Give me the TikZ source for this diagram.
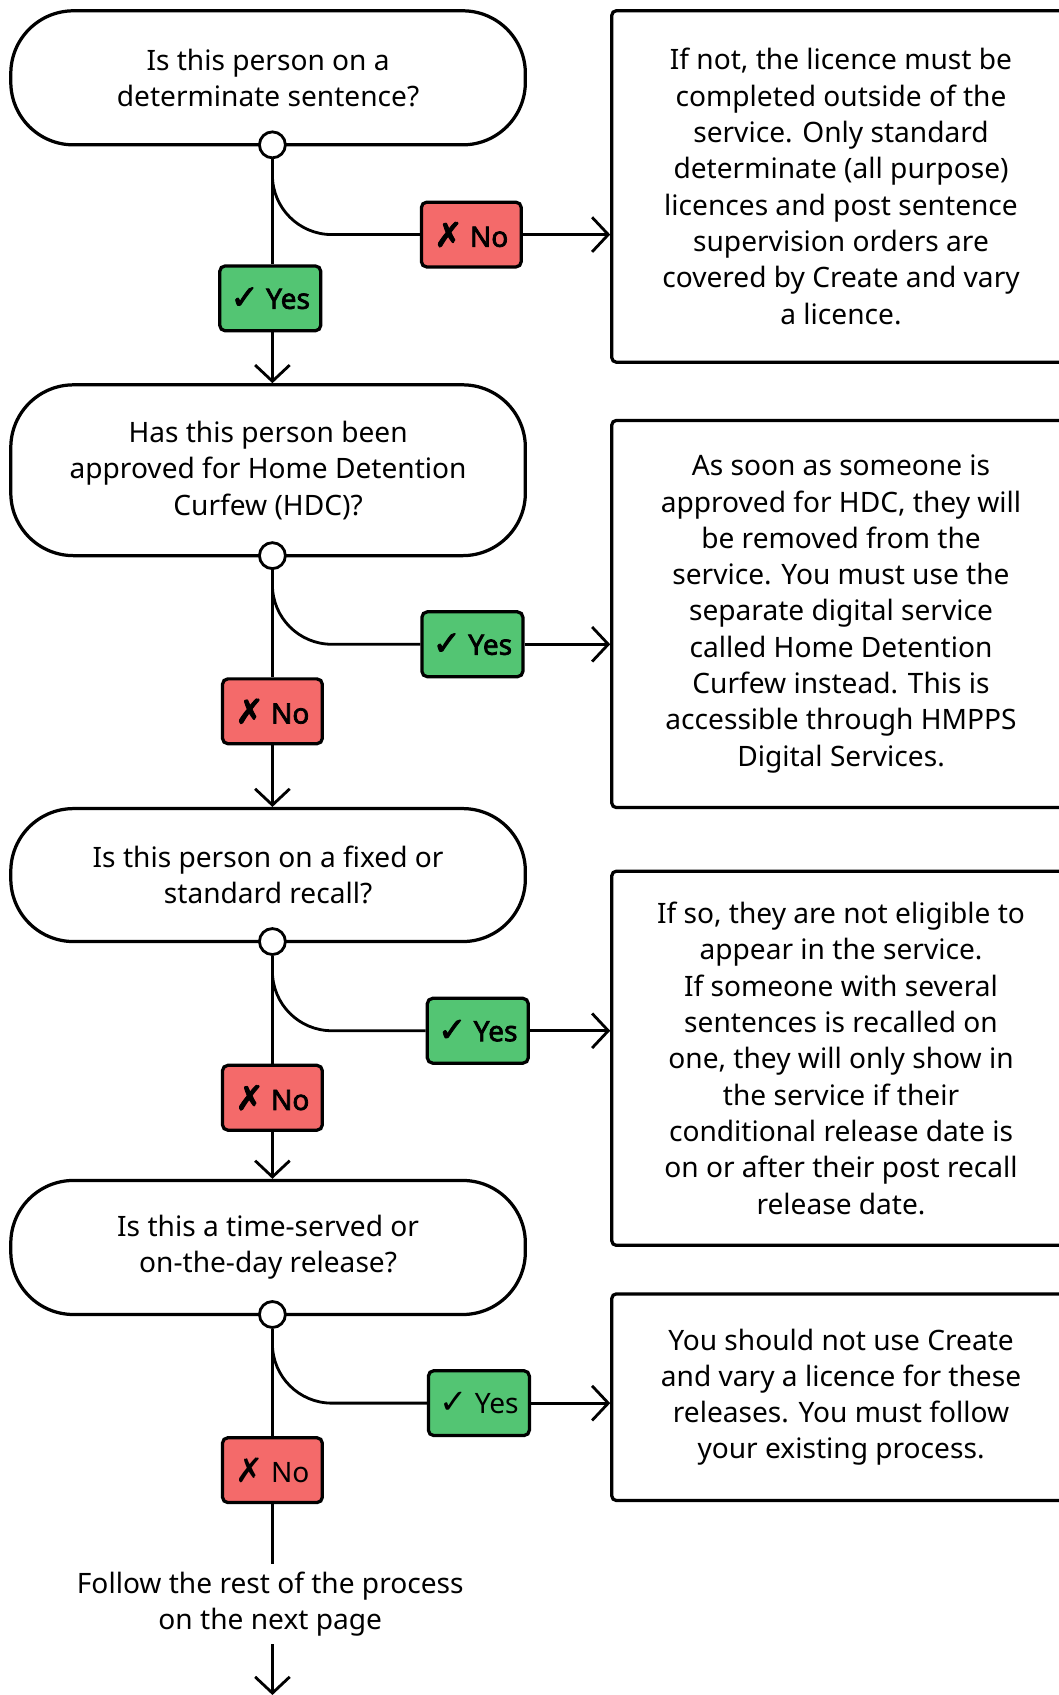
\documentclass[tikz,border=0pt]{standalone}
\usepackage{fontspec}
\setmainfont{Noto Sans}[BoldFont={Noto Sans}, BoldFeatures={FakeBold=2.5}]
\newfontfamily\symfont{DejaVu Sans}[Scale=1.2, BoldFont={DejaVu Sans}, BoldFeatures={FakeBold=2.5}]
\usetikzlibrary{positioning, arrows.meta}
\definecolor{yesgreen}{HTML}{53C573}
\definecolor{nored}{HTML}{F46A6A}
\newcommand{\tick}{{\symfont ✓}}
\newcommand{\cross}{{\symfont ✗}}

\begin{document}
\begin{tikzpicture}[x=1pt, y=-1pt, line width=2.6pt,
    >={Straight Barb[length=15pt, width=32pt, line width=2.6pt]},
    question/.style={draw, line width=3pt, rectangle, rounded corners=58pt, minimum width=476pt, align=center, font=\fontsize{26}{33.6}\selectfont},
    info/.style={draw, line width=3pt, rectangle, rounded corners=4pt, minimum width=424pt, align=center, font=\fontsize{26}{33.6}\selectfont},
    joint/.style={draw, circle, fill=white, minimum size=24pt, inner sep=0pt},
    yesbox/.style={draw, line width=3pt, fill=yesgreen, rounded corners=5pt, minimum height=60pt, inner xsep=10pt, font=\fontsize{26}{30}\selectfont},
    nobox/.style={draw, line width=3pt, fill=nored, rounded corners=5pt, minimum height=60pt, inner xsep=12pt, font=\fontsize{26}{30}\selectfont}
  ]
  \useasboundingbox (0,0) rectangle (979,1568);

  % questions
  \node[question, minimum height=124pt] (q1) at (248,72) {Is this person on a\\determinate sentence?};
  \node[question, minimum height=158pt] (q2) at (248,435) {Has this person been\\approved for Home Detention\\Curfew (HDC)?};
  \node[question, minimum height=123pt] (q3) at (248,809.5) {Is this person on a fixed or\\standard recall?};
  \node[question, minimum height=124pt] (q4) at (248,1154) {Is this a time-served or\\on-the-day release?};

  % joints
  \node[joint] (j1) at (252,134) {};
  \node[joint] (j2) at (252,514) {};
  \node[joint] (j3) at (252,871) {};
  \node[joint] (j4) at (252,1216) {};

  % answers
  \node[yesbox] (yes1) at (250,276) {\bfseries\tick\ Yes};
  \node[nobox] (no1) at (436,217) {\bfseries\cross\ No};
  \node[yesbox] (yes2) at (437,596) {\bfseries\tick\ Yes};
  \node[nobox] (no2) at (252,658) {\bfseries\cross\ No};
  \node[yesbox] (yes3) at (442,953.5) {\bfseries\tick\ Yes};
  \node[nobox] (no3) at (252,1015.5) {\bfseries\cross\ No};
  \node[yesbox] (yes4) at (443,1298) {\tick\ Yes};
  \node[nobox] (no4) at (252,1360) {\cross\ No};

  % notes
  \node[info, minimum height=325pt] (n1) at (778,172.5) {If not, the licence must be\\completed outside of the\\service. Only standard\\determinate (all purpose)\\licences and post sentence\\supervision orders are\\covered by Create and vary\\a licence.};
  \node[info, minimum height=358pt] (n2) at (778,568) {As soon as someone is\\approved for HDC, they will\\be removed from the\\service. You must use the\\separate digital service\\called Home Detention\\Curfew instead. This is\\accessible through HMPPS\\Digital Services.};
  \node[info, minimum height=346pt] (n3) at (778,979) {If so, they are not eligible to\\appear in the service.\\If someone with several\\sentences is recalled on\\one, they will only show in\\the service if their\\conditional release date is\\on or after their post recall\\release date.};
  \node[info, minimum height=191pt] (n4) at (778,1292.5) {You should not use Create\\and vary a licence for these\\releases. You must follow\\your existing process.};

  \node[align=center, font=\fontsize{26}{33.6}\selectfont, inner sep=6pt] (next) at (250,1484) {Follow the rest of the process\\on the next page};
  \coordinate (end) at (252,1568);

  % connectors
  \draw (j1) -- (j1 |- yes1.north);
  \draw[->] (j1 |- yes1.south) -- (j1 |- q2.north);
  \draw[rounded corners=55pt] (j1.south) |- (no1.west);
  \draw[->] (no1) -- (no1 -| n1.west);

  \draw (j2) -- (no2);
  \draw[->] (no2) -- (no2 |- q3.north);
  \draw[rounded corners=55pt] (j2.south) |- (yes2.west);
  \draw[->] (yes2) -- (yes2 -| n2.west);

  \draw (j3) -- (no3);
  \draw[->] (no3) -- (no3 |- q4.north);
  \draw[rounded corners=55pt] (j3.south) |- (yes3.west);
  \draw[->] (yes3) -- (yes3 -| n3.west);

  \draw (j4) -- (no4);
  \draw[rounded corners=55pt] (j4.south) |- (yes4.west);
  \draw[->] (yes4) -- (yes4 -| n4.west);
  \draw (no4) -- (no4 |- next.north);
  \draw[->] (end |- next.south) -- (end);
\end{tikzpicture}
\end{document}
